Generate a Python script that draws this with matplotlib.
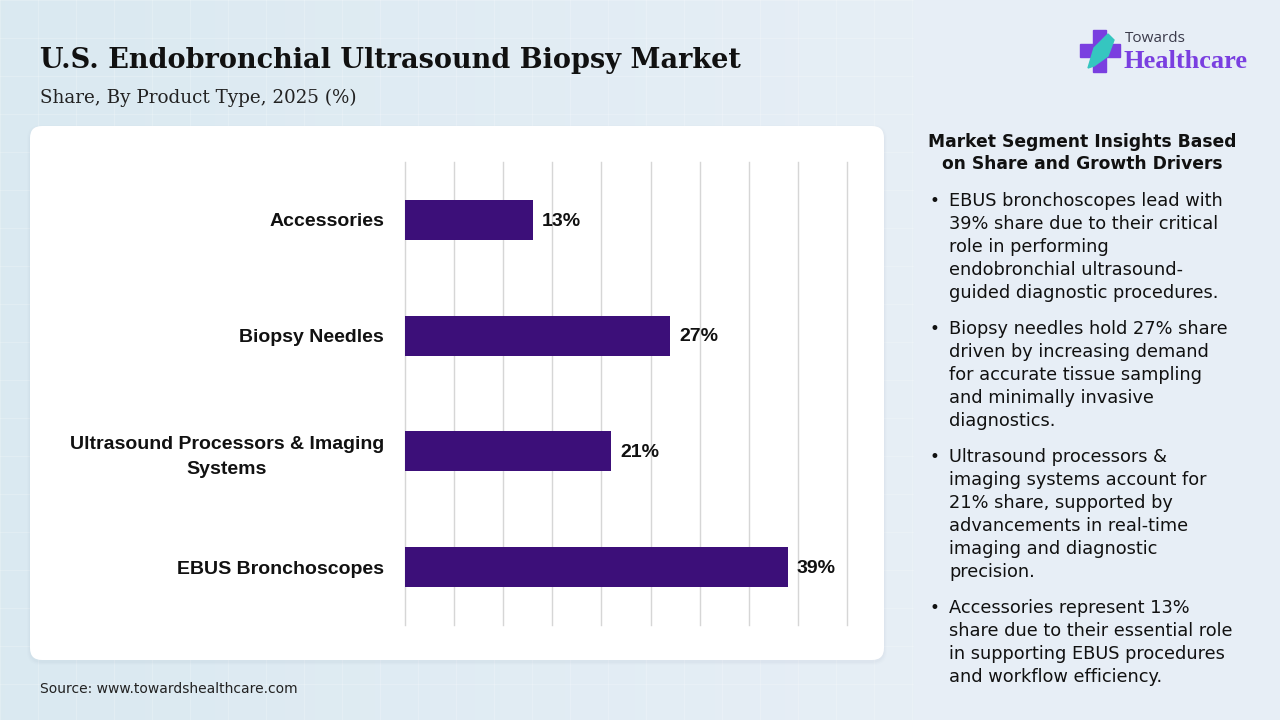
import numpy as np
import matplotlib.pyplot as plt
from matplotlib.patches import FancyBboxPatch, Rectangle, Polygon

W, H = 1280, 720

categories = ["Accessories", "Biopsy Needles",
              "Ultrasound Processors & Imaging\nSystems", "EBUS Bronchoscopes"]
shares = [13, 27, 21, 39]

title = "U.S. Endobronchial Ultrasound Biopsy Market"
subtitle = "Share, By Product Type, 2025 (%)"
source = "Source: www.towardshealthcare.com"

panel_title = "Market Segment Insights Based\non Share and Growth Drivers"
bullets = [
    ["EBUS bronchoscopes lead with", "39% share due to their critical",
     "role in performing", "endobronchial ultrasound-",
     "guided diagnostic procedures."],
    ["Biopsy needles hold 27% share", "driven by increasing demand",
     "for accurate tissue sampling", "and minimally invasive",
     "diagnostics."],
    ["Ultrasound processors &", "imaging systems account for",
     "21% share, supported by", "advancements in real-time",
     "imaging and diagnostic", "precision."],
    ["Accessories represent 13%", "share due to their essential role",
     "in supporting EBUS procedures", "and workflow efficiency."],
]

BAR = "#3c0f79"
LABEL_FONT = "Liberation Sans"
BODY_FONT = "DejaVu Sans"


def px(x, y):
    # pixel coords (top-left origin) -> figure fraction
    return x / W, 1 - y / H


fig = plt.figure(figsize=(12.8, 7.2), dpi=100)

# background gradient + faint grid
bg = fig.add_axes([0, 0, 1, 1], zorder=-10)
bg.set_xlim(0, W)
bg.set_ylim(H, 0)
bg.axis("off")
grad = np.linspace(0, 1, 256)[None, :]
c0 = np.array([0.855, 0.914, 0.945])
c1 = np.array([0.925, 0.945, 0.972])
img = c0[None, None, :] * (1 - grad[..., None]) + c1[None, None, :] * grad[..., None]
bg.imshow(img, extent=[0, W, H, 0], aspect="auto", zorder=0)
for gx in np.arange(0, 914, 38):
    bg.plot([gx, gx], [0, H], color="white", lw=0.8, alpha=0.2, zorder=1)
for gy in np.arange(0, H, 38):
    bg.plot([0, 914], [gy, gy], color="white", lw=0.8, alpha=0.2, zorder=1)

# right panel
bg.add_patch(Rectangle((914, 0), W - 914, H, color="#e7eef6", zorder=2))

# white card with soft shadow
for i, a in enumerate([0.04, 0.03, 0.02]):
    d = 2 + i * 2
    bg.add_patch(FancyBboxPatch((30 - d / 2, 126 - d / 2 + 2), 854 + d, 534 + d,
                                boxstyle="round,pad=0,rounding_size=14",
                                fc="#8aa0b8", ec="none", alpha=a, zorder=3))
bg.add_patch(FancyBboxPatch((30, 126), 854, 534,
                            boxstyle="round,pad=0,rounding_size=12",
                            fc="white", ec="none", zorder=4))

# logo
bg.add_patch(Rectangle((1093, 30), 13, 42, color="#7a3fe0", zorder=5))
bg.add_patch(Rectangle((1080, 44), 40, 13, color="#7a3fe0", zorder=5))
bg.add_patch(Polygon([[1088, 68], [1094, 48], [1108, 34], [1114, 40],
                      [1108, 56], [1094, 66]], closed=True,
                     color="#35c6c0", zorder=6))

# titles
fig.text(*px(40, 60), title, fontsize=19.5, fontweight="bold",
         family="DejaVu Serif", color="#111111", va="center")
fig.text(*px(40, 98), subtitle, fontsize=13.2, family="DejaVu Serif",
         color="#222222", va="center")
fig.text(*px(40, 689), source, fontsize=10, family=BODY_FONT,
         color="#222222", va="center")

fig.text(*px(1125, 38), "Towards", fontsize=11, family="Open Sans",
         color="#3a3a4a", va="center")
fig.text(*px(1123, 62), "Healthcare", fontsize=19, family="Liberation Serif",
         fontweight="bold", color="#7a3fe0", va="center")

# bar chart
ax = fig.add_axes([405 / W, 1 - 625 / H, 442 / W, 463 / H], zorder=5)
ax.set_facecolor("none")
y = np.arange(len(categories))
ax.barh(y, shares, height=0.345, color=BAR, zorder=3)
ax.set_xlim(0, 45)
ax.set_ylim(3.5, -0.5)
ax.set_xticks(np.arange(0, 46, 5))
ax.xaxis.grid(True, color="#d6d6d6", lw=1, clip_on=False)
ax.tick_params(axis="x", length=0, labelbottom=False)
ax.set_yticks(y)
ax.set_yticklabels(categories, fontsize=14, fontweight="bold",
                   family=LABEL_FONT, color="#111111",
                   multialignment="center", linespacing=1.6)
ax.tick_params(axis="y", length=0, pad=15)
for lbl in ax.get_yticklabels():
    lbl.set_y(lbl.get_position()[1])
for s in ax.spines.values():
    s.set_visible(False)
for yi, v in zip(y, shares):
    ax.text(v + 0.9, yi + 0.01, f"{v}%", va="center", ha="left", fontsize=14,
            fontweight="bold", family=LABEL_FONT, color="#111111")

# insights panel
fig.text(*px(1082, 153), panel_title, fontsize=12.3, fontweight="bold",
         family=BODY_FONT, color="#111111", ha="center", va="center",
         linespacing=1.3)
line_h = 23
gap = 13
cy = 201
for para in bullets:
    fig.text(*px(929, cy), "\u2022", fontsize=12, family=BODY_FONT,
             color="#111111", va="center")
    for ln in para:
        fig.text(*px(949, cy), ln, fontsize=12.8, family=BODY_FONT,
                 color="#111111", va="center")
        cy += line_h
    cy += gap

fig.savefig("out.png", dpi=100)
